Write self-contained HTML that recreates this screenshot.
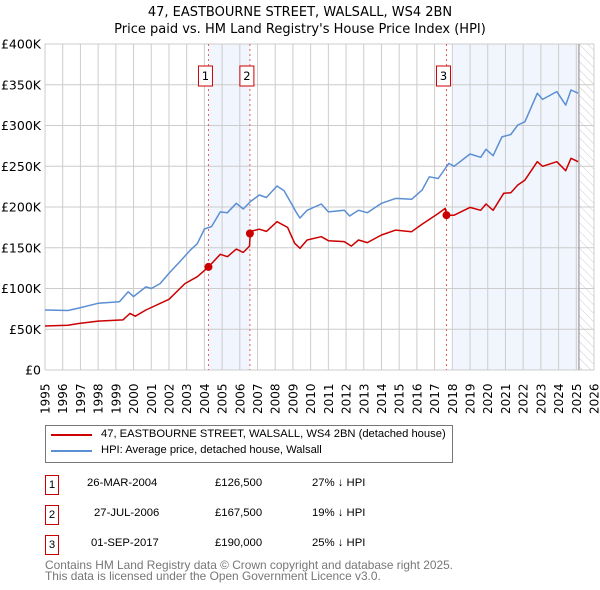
<!DOCTYPE html>
<html><head><meta charset="utf-8"><style>
body{margin:0;background:#fff;font-family:"Liberation Sans","DejaVu Sans",sans-serif;}
#wrap{position:relative;width:600px;height:590px;overflow:hidden;}
.tb{position:absolute;white-space:nowrap;font-size:11.3px;}
</style></head><body>
<div id="wrap">
<svg id="svg" width="600" height="590" xmlns="http://www.w3.org/2000/svg" style="position:absolute;left:0;top:0">
<defs><pattern id="hatch" width="6" height="6" patternUnits="userSpaceOnUse" patternTransform="rotate(-45)"><line x1="0" y1="0" x2="0" y2="6" stroke="#ccc" stroke-width="1"/></pattern></defs>
<text x="300" y="16" text-anchor="middle" font-size="13" font-family="DejaVu Sans, sans-serif" fill="#000">47, EASTBOURNE STREET, WALSALL, WS4 2BN</text>
<text x="300" y="33" text-anchor="middle" font-size="13" font-family="DejaVu Sans, sans-serif" fill="#000">Price paid vs. HM Land Registry's House Price Index (HPI)</text>
<g id="plot"></g>
</svg>
</div>
<script>
const yTicks=[0,50000,100000,150000,200000,250000,300000,350000,400000];
const yTickLabels=["£0","£50K","£100K","£150K","£200K","£250K","£300K","£350K","£400K"];
const xYears=[1995,1996,1997,1998,1999,2000,2001,2002,2003,2004,2005,2006,2007,2008,2009,2010,2011,2012,2013,2014,2015,2016,2017,2018,2019,2020,2021,2022,2023,2024,2025,2026];
const hpiT=[1995,1996.3,1996.9,1998,1999.2,1999.7,2000,2000.7,2001,2001.5,2002,2002.7,2003.2,2003.6,2004,2004.4,2004.9,2005.3,2005.8,2006.2,2006.6,2007.1,2007.5,2008.1,2008.5,2008.9,2009.2,2009.4,2009.8,2010.6,2011,2011.9,2012.2,2012.7,2013.2,2014,2014.8,2015.7,2016.3,2016.7,2017.2,2017.8,2018.1,2019,2019.6,2019.9,2020.3,2020.8,2021.3,2021.7,2022.1,2022.8,2023.1,2023.9,2024.4,2024.7,2025.1];
const hpiV=[73600,73000,76000,81800,83800,96000,90000,102000,100000,106000,118600,135000,147000,155000,173000,176000,194000,193000,204500,197500,206600,214700,211700,225800,220000,204500,193000,186500,196000,203700,194000,196000,189000,196000,193000,204500,210500,209500,221000,237000,235000,253500,250000,265000,261000,270800,263000,286000,289000,300600,304600,339500,332000,341600,325000,343500,339600];
const priceT=[1995,1996.3,1996.9,1998,1999.4,1999.8,2000.1,2000.7,2002,2002.9,2003.6,2004.23,2004.9,2005.3,2005.8,2006.2,2006.55,2006.6,2007.1,2007.5,2008.1,2008.7,2009.1,2009.4,2009.8,2010.6,2011,2011.9,2012.3,2012.7,2013.2,2014,2014.8,2015.7,2016.3,2017.2,2017.6,2017.67,2018.1,2019,2019.6,2019.9,2020.3,2020.9,2021.3,2021.7,2022.1,2022.8,2023.1,2023.9,2024.4,2024.7,2025.1];
const priceV=[54000,55000,57000,60000,61500,69500,66000,73600,86700,106000,114500,126500,142000,139000,148400,144300,152000,170000,172700,170000,182000,175000,155500,149300,159500,163600,158700,157500,152000,159500,156300,165600,171700,169700,179000,192000,198300,190000,190000,199500,196000,203700,196000,216800,217600,227000,233000,255600,250000,255600,244500,259700,255600];
const saleT=[2004.23,2006.57,2017.67];
const saleV=[126500,167500,190000];
const saleLabels=["1","2","3"];

const X0=45,X1=594,Y0=370,Y1=44;
const xs=t=>X0+(t-1995)*(X1-X0)/31;
const ys=v=>Y0-v*(Y0-Y1)/400000;
const NS="http://www.w3.org/2000/svg";
const g=document.getElementById('plot');
function mk(tag,attrs,parent){const e=document.createElementNS(NS,tag);for(const k in attrs)e.setAttribute(k,attrs[k]);(parent||g).appendChild(e);return e;}

let r=mk('rect',{x:xs(saleT[0]),y:Y1,width:xs(saleT[1])-xs(saleT[0]),height:Y0-Y1,fill:'#eef3fc',opacity:0.8});


r=mk('rect',{x:xs(2018.05),y:Y1,width:xs(2025.15)-xs(2018.05),height:Y0-Y1,fill:'#eef3fc',opacity:0.8});


r=mk('rect',{x:xs(2025.15),y:Y1,width:X1-xs(2025.15),height:Y0-Y1,fill:'url(#hatch)'});



xYears.forEach(yr=>{
 const l=mk('line',{x1:xs(yr),x2:xs(yr),y1:Y1,y2:Y0,stroke:'#ccc','stroke-width':1});
 
 
 const x=xs(yr);
 const t=mk('text',{x:0,y:0,transform:`translate(${x+4.5},414) rotate(-90)`,'font-size':12,'font-family':'DejaVu Sans, sans-serif',fill:'#000'});
 
 
 t.textContent=yr;
});
yTicks.forEach((v,i)=>{
 const l=mk('line',{x1:X0,x2:X1,y1:ys(v),y2:ys(v),stroke:'#ccc','stroke-width':1});
 
 
 const t=mk('text',{x:41,y:ys(v)+4.5,'text-anchor':'end','font-size':12.5,'font-family':'DejaVu Sans, sans-serif',fill:'#000'});
 
 
 t.textContent=yTickLabels[i];
});
let vl=mk('line',{x1:xs(2025.15),x2:xs(2025.15),y1:Y1,y2:Y0,stroke:'#999','stroke-width':1.2});



saleT.forEach((t,i)=>{
 const l=mk('line',{x1:xs(t),x2:xs(t),y1:Y1,y2:Y0,stroke:'#e06060','stroke-width':1,'stroke-dasharray':'2,3'});
 
 
});
function path(T,V,color,name){
 const d=T.map((t,i)=>(i?'L':'M')+xs(t).toFixed(1)+','+ys(V[i]).toFixed(1)).join('');
 const p=mk('path',{d:d,fill:'none',stroke:color,'stroke-width':1.5,'stroke-linejoin':'round'});
 
 
}
path(hpiT,hpiV,'#5b8fd4','hpi-line');
path(priceT,priceV,'#cc0000','price-line');
saleT.forEach((t,i)=>{
 const c=mk('circle',{cx:xs(t),cy:ys(saleV[i]),r:4,fill:'#cc0000'});
 
 
 const b=mk('rect',{x:xs(t)-10,y:66,width:14,height:20,fill:'#fff',stroke:'#cc0000','stroke-width':1});
 
 
 const tx=mk('text',{x:xs(t)-3,y:80,'text-anchor':'middle','font-size':11.5,'font-family':'DejaVu Sans, sans-serif',fill:'#000'});
 
 
 tx.textContent=saleLabels[i];
});
</script>
<div style="position:absolute;left:45px;top:425px;width:406px;height:36px;border:1px solid #777;font-size:11.2px;">
 <span style="position:absolute;left:5px;top:8px;width:41px;height:2px;background:#cc0000"></span>
 <div style="position:absolute;left:55px;top:2px;white-space:nowrap">47, EASTBOURNE STREET, WALSALL, WS4 2BN (detached house)</div>
 <span style="position:absolute;left:5px;top:24px;width:41px;height:2px;background:#5b8fd4"></span>
 <div style="position:absolute;left:55px;top:18px;white-space:nowrap">HPI: Average price, detached house, Walsall</div>
</div>
<div style="position:absolute;left:0;top:0;">
 <div>
  <div class="tb" style="left:45px;top:475px;width:12px;height:18px;border:1px solid #cc0000;text-align:center;line-height:18px">1</div>
  <div class="tb" style="left:87px;top:477px">26-MAR-2004</div>
  <div class="tb" style="left:215px;top:477px">£126,500</div>
  <div class="tb" style="left:312px;top:477px">27% ↓ HPI</div>
 </div>
 <div>
  <div class="tb" style="left:45px;top:505px;width:12px;height:18px;border:1px solid #cc0000;text-align:center;line-height:18px">2</div>
  <div class="tb" style="left:94px;top:507px">27-JUL-2006</div>
  <div class="tb" style="left:215px;top:507px">£167,500</div>
  <div class="tb" style="left:312px;top:507px">19% ↓ HPI</div>
 </div>
 <div>
  <div class="tb" style="left:45px;top:535px;width:12px;height:18px;border:1px solid #cc0000;text-align:center;line-height:18px">3</div>
  <div class="tb" style="left:91px;top:537px">01-SEP-2017</div>
  <div class="tb" style="left:215px;top:537px">£190,000</div>
  <div class="tb" style="left:312px;top:537px">25% ↓ HPI</div>
 </div>
</div>
<div style="position:absolute;left:45px;top:560px;font-size:11.9px;color:#777;line-height:10.5px;white-space:nowrap">Contains HM Land Registry data © Crown copyright and database right 2025.<br>This data is licensed under the Open Government Licence v3.0.</div>
</body></html>
